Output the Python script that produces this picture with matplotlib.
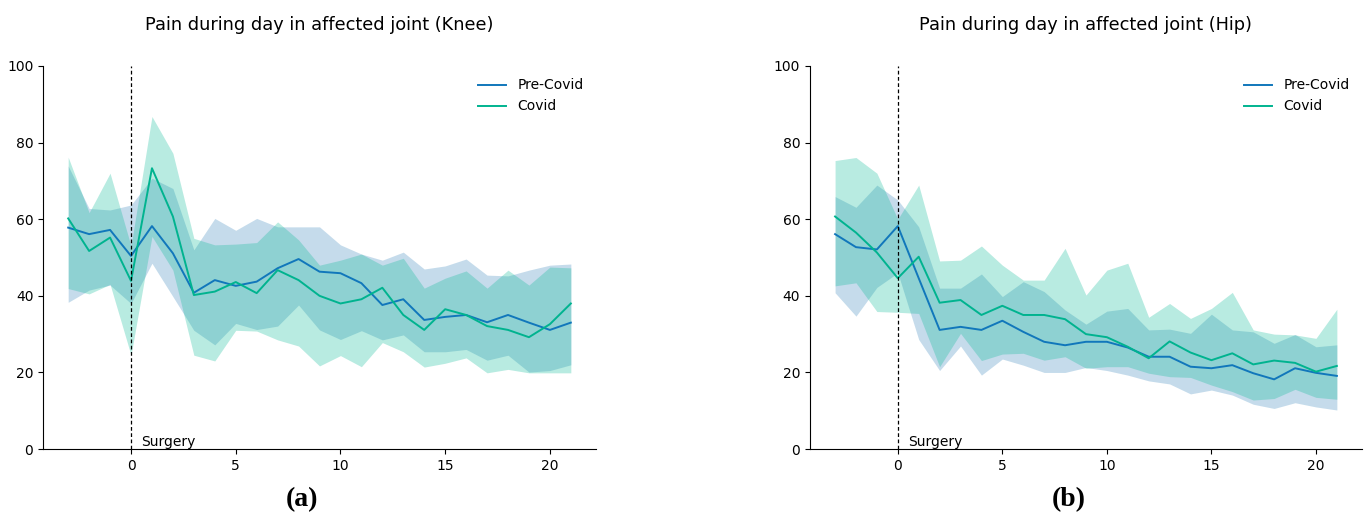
import matplotlib
matplotlib.use("Agg")
import matplotlib.pyplot as plt
import numpy as np

# weeks relative to surgery
weeks = np.arange(-3, 22)

# Knee: mean pain score and band limits
knee_pre_mean = [57.8, 56.1, 57.2, 50.4, 58.2, 51.1, 40.8, 44.1, 42.6, 43.7, 47.2, 49.6, 46.3,
                 45.9, 43.3, 37.6, 39.1, 33.7, 34.5, 35.0, 33.1, 35.0, 33.0, 31.1, 33.0]
knee_pre_upper = [73.9, 62.8, 62.4, 63.7, 70.7, 68.0, 52.0, 60.2, 57.1, 60.2, 58.0, 58.0, 58.0,
                  53.3, 50.9, 49.3, 51.4, 47.0, 47.8, 49.6, 45.4, 45.2, 46.7, 48.0, 48.3]
knee_pre_lower = [38.3, 41.5, 42.8, 38.0, 48.5, 39.8, 31.0, 27.2, 32.8, 31.2, 32.1, 37.6, 31.1,
                  28.6, 30.9, 28.5, 29.8, 25.4, 25.4, 26.0, 23.2, 24.5, 20.1, 20.5, 22.0]
knee_cov_mean = [60.2, 51.7, 55.2, 43.9, 73.3, 60.7, 40.2, 41.1, 43.6, 40.7, 46.7, 44.1, 40.0,
                 38.0, 39.1, 42.1, 35.0, 31.1, 36.5, 35.0, 32.1, 31.1, 29.2, 32.6, 38.0]
knee_cov_upper = [76.2, 61.7, 72.0, 53.0, 86.8, 77.2, 55.0, 53.3, 53.5, 53.9, 59.3, 54.6, 48.0,
                  49.3, 50.9, 48.0, 49.8, 42.0, 44.6, 46.5, 42.0, 46.7, 42.8, 47.5, 47.3]
knee_cov_lower = [41.9, 40.5, 43.0, 24.5, 55.5, 46.7, 24.5, 23.0, 31.0, 30.8, 28.5, 26.9, 21.7,
                  24.4, 21.5, 27.8, 25.4, 21.4, 22.4, 23.8, 19.9, 20.8, 19.9, 19.9, 19.9]

# Hip
hip_pre_mean = [56.1, 52.7, 52.1, 58.2, 44.6, 31.1, 31.9, 31.1, 33.5, 30.6, 28.0, 27.1, 28.0,
                28.0, 26.5, 24.1, 24.1, 21.5, 21.1, 21.9, 19.8, 18.2, 21.1, 19.9, 19.1]
hip_pre_upper = [65.9, 63.1, 68.9, 65.0, 58.0, 42.0, 42.0, 45.7, 39.8, 43.7, 41.1, 36.3, 32.6,
                 36.0, 36.7, 31.1, 31.3, 30.2, 35.2, 31.1, 30.6, 27.6, 29.9, 26.7, 27.2]
hip_pre_lower = [40.8, 34.7, 42.2, 46.0, 28.6, 20.5, 26.9, 19.3, 23.5, 21.9, 20.0, 20.0, 21.3,
                 20.5, 19.3, 17.8, 17.0, 14.4, 15.4, 14.1, 11.7, 10.6, 12.1, 11.0, 10.2]
hip_cov_mean = [60.7, 56.5, 51.3, 44.6, 50.2, 38.2, 38.9, 35.0, 37.4, 35.0, 35.0, 33.9, 30.0,
                29.2, 26.7, 23.7, 28.1, 25.2, 23.2, 25.0, 22.1, 23.1, 22.5, 20.2, 21.7]
hip_cov_upper = [75.3, 76.1, 72.0, 60.0, 68.9, 49.1, 49.3, 53.0, 48.0, 44.1, 44.1, 52.4, 40.2,
                 46.7, 48.5, 34.4, 38.0, 34.1, 36.7, 40.9, 31.1, 30.0, 29.8, 28.9, 36.5]
hip_cov_lower = [42.6, 43.4, 35.9, 35.7, 35.4, 21.5, 30.2, 23.1, 24.8, 25.0, 23.2, 24.1, 21.1,
                 21.5, 21.5, 19.8, 18.9, 18.7, 16.7, 15.0, 12.8, 13.2, 15.6, 13.5, 13.0]

PRE_COLOR = "#1177bb"
PRE_FILL = "#1f77b4"
COV_COLOR = "#00b38f"
COV_FILL = "#00b894"

fig = plt.figure(figsize=(13.71, 5.15), dpi=100)
ax_knee = fig.add_axes([0.0314, 0.128, 0.4033, 0.744])
ax_hip = fig.add_axes([0.5908, 0.128, 0.4026, 0.744])

panels = [
    (ax_knee, "Knee", "(a)", knee_pre_mean, knee_pre_lower, knee_pre_upper,
     knee_cov_mean, knee_cov_lower, knee_cov_upper),
    (ax_hip, "Hip", "(b)", hip_pre_mean, hip_pre_lower, hip_pre_upper,
     hip_cov_mean, hip_cov_lower, hip_cov_upper),
]

for ax, joint, tag, pm, pl, pu, cm, cl, cu in panels:
    ax.fill_between(weeks, pl, pu, color=PRE_FILL, alpha=0.26, linewidth=0)
    ax.fill_between(weeks, cl, cu, color=COV_FILL, alpha=0.28, linewidth=0)
    ax.plot(weeks, pm, color=PRE_COLOR, lw=1.4, label="Pre-Covid")
    ax.plot(weeks, cm, color=COV_COLOR, lw=1.4, label="Covid")
    ax.axvline(0, color="black", lw=0.9, ls=(0, (3, 2)))
    ax.text(0.5, 0.0, "Surgery", fontsize=10, ha="left", va="bottom")

    ax.set_ylim(0, 100)
    ax.set_yticks([0, 20, 40, 60, 80, 100])
    ax.set_xticks([0, 5, 10, 15, 20])
    ax.tick_params(labelsize=10)
    ax.spines["top"].set_visible(False)
    ax.spines["right"].set_visible(False)
    ax.set_title(f"Pain during day in affected joint ({joint})", fontsize=12.8, pad=26)
    ax.legend(loc="upper right", frameon=False, fontsize=10)
    ax.text(0.469, -0.133, tag, transform=ax.transAxes, ha="center", va="center",
            fontsize=20, fontweight="bold", family="Liberation Serif")

fig.savefig("out.png", dpi=100)
